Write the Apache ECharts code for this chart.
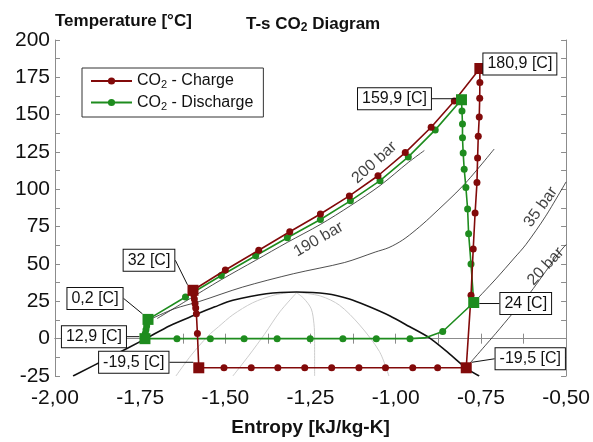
<!DOCTYPE html>
<html>
<head>
<meta charset="utf-8">
<script src="https://cdn.jsdelivr.net/npm/echarts@6/dist/echarts.min.js"></script>
<style>
  html, body { margin: 0; padding: 0; background: #fff; }
  #main { width: 593px; height: 442px; }
</style>
</head>
<body>
<div id="main"></div>
<script>
// axis ticks
var xTicks = [-2, -1.75, -1.5, -1.25, -1, -0.75, -0.5];
var yTicks = [-25, 0, 25, 50, 75, 100, 125, 150, 175, 200];

// CO2 charge cycle (entropy, temperature)
var chargeS = [-0.793, -0.779, -0.7725, -0.767, -0.7615, -0.7597, -0.7577, -0.7548, -0.7535, -0.753, -0.753,
  -0.828, -0.896, -0.972, -1.052, -1.136, -1.221, -1.311, -1.402, -1.500, -1.595,
  -1.593, -1.591, -1.589, -1.587, -1.585, -1.582, -1.578,
  -1.504, -1.424, -1.346, -1.267, -1.188, -1.108, -1.030, -0.950, -0.877, -0.793];
var chargeT = [-19.5, 29, 60, 84.2, 104.5, 121, 135.6, 148.5, 161, 171.5, 180.9,
  159.2, 141.6, 124.6, 109.1, 95.6, 83.5, 71.6, 59.2, 46, 32.4,
  29.5, 26.5, 23.5, 20.5, 16.7, 3.4, -19.5,
  -19.5, -19.5, -19.5, -19.5, -19.5, -19.5, -19.5, -19.5, -19.5, -19.5];

// CO2 discharge cycle
var dischargeS = [-1.736, -1.735, -1.733, -1.731, -1.727,
  -1.617, -1.512, -1.411, -1.318, -1.221, -1.133, -1.046, -0.963, -0.884, -0.807,
  -0.8055, -0.804, -0.804, -0.802, -0.799, -0.794, -0.789, -0.786, -0.779, -0.771,
  -0.862, -0.915, -0.958, -1.057, -1.155, -1.251, -1.348, -1.445, -1.544, -1.642, -1.736];
var dischargeT = [0, 3.5, 6, 8.5, 12.9,
  27.9, 42.3, 55.5, 67.6, 79.8, 92.3, 105.8, 121.7, 139.8, 160,
  152.4, 143.7, 134.5, 124.4, 113.5, 101.2, 86.8, 70.3, 50, 24.2,
  4.8, 0.5, 0, 0, 0, 0, 0, 0, 0, 0, 0];
// 0 = bend of the line only, no marker
var dischargeDot = [1, 1, 1, 1, 1, 1, 1, 1, 1, 1, 1, 1, 1, 1, 1, 1, 1, 1, 1, 1, 1, 1, 1, 1, 1,
  1, 0, 1, 1, 1, 1, 1, 1, 1, 1, 1];

// labelled states
var stateS = [-0.753, -0.807, -1.595, -1.727, -1.736, -1.578, -0.771, -0.793];
var stateT = [180.9, 160, 32.4, 12.9, 0, -19.5, 24.2, -19.5];
var stateLabels = ['180,9 [C]', '159,9 [C]', '32 [C]', '0,2 [C]', '12,9 [C]', '-19,5 [C]', '24 [C]', '-19,5 [C]'];
var stateCycle = ['c', 'd', 'c', 'd', 'd', 'c', 'd', 'c'];

// saturation dome
var domeS = [-1.947, -1.839, -1.736, -1.663, -1.590, -1.531, -1.478, -1.380, -1.291, -1.203, -1.136, -1.077, -1.018, -0.960, -0.901, -0.843, -0.794, -0.755];
var domeT = [-25, -12.4, -0.3, 8.7, 15.8, 21.3, 25.7, 30.1, 31.2, 30.1, 26.6, 21.3, 15.3, 8.1, 0.5, -10, -19.5, -25];

// vapour quality lines inside the dome
var q1S = [-1.31, -1.36, -1.42, -1.478, -1.52, -1.55, -1.60, -1.645];
var q1T = [31, 29, 24, 16, 8, 2, -11, -25];
var q2S = [-1.29, -1.34, -1.385, -1.43, -1.478];
var q2T = [31, 18, 3, -11, -25];
var q3S = [-1.292, -1.27, -1.248, -1.240, -1.238, -1.238];
var q3T = [31, 27, 20, 10, 0, -25];
var q4S = [-1.285, -1.22, -1.165, -1.106, -1.048, -1.02];
var q4T = [31, 28.5, 22.4, 9.2, -8.5, -25];

// isobars
var p190S = [-1.70, -1.617, -1.512, -1.411, -1.318, -1.221, -1.133, -1.046, -0.963, -0.916];
var p190T = [13.5, 25, 39.5, 52.5, 64.5, 76.5, 89, 102.5, 118, 126];
var pMidS = [-1.72, -1.65, -1.575, -1.45, -1.30, -1.15, -1.06, -1.02, -0.98, -0.94, -0.90, -0.80, -0.711];
var pMidT = [13, 20, 25, 34.5, 43.5, 51, 58, 61, 66, 73, 81, 103, 127];
var p35S = [-0.771, -0.706, -0.652, -0.618, -0.56, -0.50];
var p35T = [24.2, 40, 54, 63, 82, 105];
var p20S = [-0.794, -0.706, -0.657, -0.608, -0.56, -0.516, -0.50];
var p20T = [-19.5, 3.6, 16.9, 30, 45, 58.8, 63];

// isobar captions
var barText = ['200 bar', '190 bar', '35 bar', '20 bar'];
var barS = [-1.0624, -1.2265, -0.574, -0.56];
var barT = [117.9, 66.5, 88.2, 48.4];
var barAngle = [42, 30, 54, 47];

// callout offsets (px) from each state point
var labelDx = [40, -67, -44, -53, -51, -65, 52, 64];
var labelDy = [-4.5, -1, -30, -21, -2, -5.5, 1, -9];

var RED = '#820a0a';
var GREEN = '#1e8c1e';
var FONT = 'Liberation Sans, Arial, sans-serif';

function pairs(xs, ys) {
  return xs.map(function (x, i) { return [x, ys[i]]; });
}

function bg(data, color, width) {
  return {
    type: 'line', data: data, symbol: 'none', silent: true, z: 1,
    smooth: 0.3,
    lineStyle: { color: color, width: width }
  };
}

var chart = echarts.init(document.getElementById('main'));

var axisCommon = {
  type: 'value',
  axisLine: { show: true, lineStyle: { color: '#8c8c8c', width: 1 } },
  axisTick: { show: true, inside: true, length: 5, lineStyle: { color: '#8c8c8c' } },
  minorTick: { show: true, splitNumber: 2, length: 5, lineStyle: { color: '#8c8c8c' } },
  splitLine: { show: false }
};

var option = {
  animation: false,
  backgroundColor: '#fff',
  textStyle: { fontFamily: FONT },
  title: {
    text: '{b|T-s CO}{s|2}{b| Diagram}',
    left: 241, top: 9,
    textStyle: {
      rich: {
        b: { fontFamily: FONT, fontSize: 17, fontWeight: 'bold', color: '#111' },
        s: { fontFamily: FONT, fontSize: 12, fontWeight: 'bold', color: '#111', padding: [8, 0, 0, 0] }
      }
    }
  },
  legend: {
    left: 82, top: 68, orient: 'vertical',
    padding: [5, 10, 5, 8], itemGap: 4,
    itemWidth: 41, itemHeight: 9,
    borderColor: '#333', borderWidth: 1,
    data: ['CO2 - Charge', 'CO2 - Discharge'],
    formatter: function (name) { return '{n|CO}{s|2}{n|' + name.slice(3) + '}'; },
    textStyle: {
      rich: {
        n: { fontFamily: FONT, fontSize: 16, color: '#111' },
        s: { fontFamily: FONT, fontSize: 11, color: '#111', padding: [8, 0, 0, 0] }
      }
    }
  },
  grid: { left: 55, right: 26, top: 40, bottom: 62 },
  xAxis: [
    Object.assign({}, axisCommon, {
      position: 'bottom', min: xTicks[0], max: xTicks[xTicks.length - 1], interval: 0.25,
      name: 'Entropy [kJ/kg-K]', nameLocation: 'middle', nameGap: 42,
      nameTextStyle: { fontFamily: FONT, fontSize: 19, fontWeight: 'bold', color: '#111' },
      axisLabel: {
        margin: 12, fontSize: 21, color: '#111', fontFamily: FONT,
        formatter: function (v) { return v.toFixed(2).replace('.', ','); }
      }
    }),
    Object.assign({}, axisCommon, {
      position: 'top', min: xTicks[0], max: xTicks[xTicks.length - 1], interval: 0.25,
      axisLabel: { show: false }
    })
  ],
  yAxis: [
    Object.assign({}, axisCommon, {
      position: 'left', min: yTicks[0], max: yTicks[yTicks.length - 1], interval: 25,
      name: 'Temperature [°C]', nameLocation: 'end', nameGap: 12,
      nameTextStyle: { fontFamily: FONT, fontSize: 17, fontWeight: 'bold', color: '#111', align: 'left', verticalAlign: 'middle' },
      axisLabel: { margin: 5, fontSize: 21, color: '#111', fontFamily: FONT }
    }),
    Object.assign({}, axisCommon, {
      position: 'right', min: yTicks[0], max: yTicks[yTicks.length - 1], interval: 25,
      axisLabel: { show: false }
    })
  ],
  series: [
    bg(pairs(q1S, q1T), '#cccccc', 1),
    bg(pairs(q2S, q2T), '#cccccc', 1),
    bg(pairs(q3S, q3T), '#cccccc', 1),
    bg(pairs(q4S, q4T), '#cccccc', 1),
    bg(pairs(domeS, domeT), '#111111', 1.6),
    bg(pairs(p190S, p190T), '#222222', 0.8),
    bg(pairs(pMidS, pMidT), '#222222', 0.8),
    bg(pairs(p35S, p35T), '#222222', 0.8),
    bg(pairs(p20S, p20T), '#222222', 0.8),
    {
      name: 'CO2 - Discharge', type: 'line', z: 3,
      data: dischargeS.map(function (s, i) {
        return dischargeDot[i] ? [s, dischargeT[i]] : { value: [s, dischargeT[i]], symbol: 'none' };
      }),
      symbol: 'circle', symbolSize: 7, showAllSymbol: true,
      itemStyle: { color: GREEN },
      lineStyle: { color: GREEN, width: 1.6 }
    },
    {
      name: 'CO2 - Charge', type: 'line', z: 4,
      data: pairs(chargeS, chargeT),
      symbol: 'circle', symbolSize: 7, showAllSymbol: true,
      itemStyle: { color: RED },
      lineStyle: { color: RED, width: 1.6 }
    },
    {
      type: 'scatter', z: 6, silent: true,
      symbol: 'rect', symbolSize: 11,
      data: stateS.map(function (s, i) {
        return {
          value: [s, stateT[i]],
          itemStyle: { color: stateCycle[i] === 'c' ? RED : GREEN, opacity: 1 }
        };
      }),
      itemStyle: { opacity: 1 },
      label: {
        show: true, position: 'inside',
        formatter: function (p) { return stateLabels[p.dataIndex]; },
        fontFamily: FONT, fontSize: 16, color: '#111',
        backgroundColor: '#fff', borderColor: '#111', borderWidth: 1,
        padding: [3, 4, 2, 4]
      },
      labelLine: { show: true, lineStyle: { color: '#111', width: 1 } },
      labelLayout: function (p) {
        return { dx: labelDx[p.dataIndex], dy: labelDy[p.dataIndex] };
      }
    },
    {
      type: 'scatter', z: 5, silent: true, symbolSize: 0,
      data: pairs(barS, barT),
      label: {
        show: true, position: 'inside',
        formatter: function (p) { return barText[p.dataIndex]; },
        fontFamily: FONT, fontSize: 16, color: '#111'
      },
      labelLayout: function (p) {
        return { rotate: barAngle[p.dataIndex] };
      }
    }
  ]
};

chart.setOption(option);
</script>
</body>
</html>
